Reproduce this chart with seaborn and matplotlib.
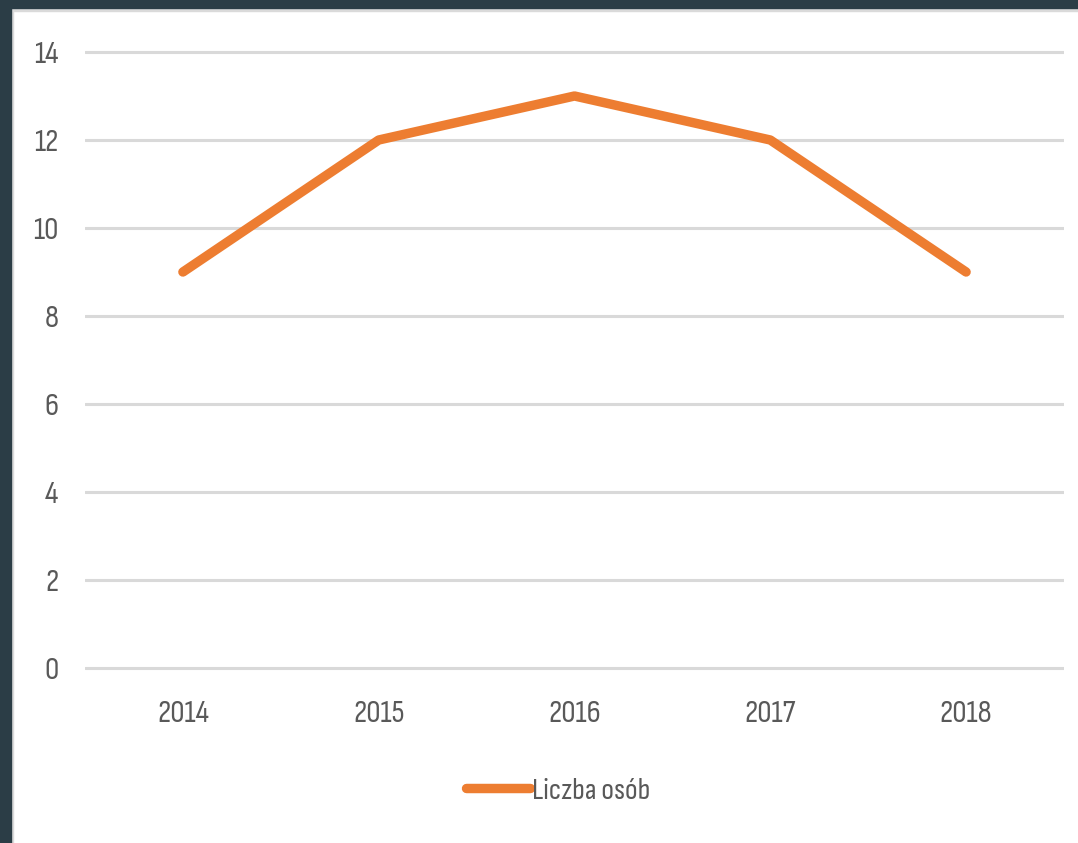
import pandas as pd
import seaborn as sns
import matplotlib.pyplot as plt
from matplotlib.patches import Rectangle

# chart data
years = ["2014", "2015", "2016", "2017", "2018"]
liczba_osob = [9, 12, 13, 12, 9]
series_name = "Liczba osób"

df = pd.DataFrame({"rok": years, "liczba": liczba_osob})

sns.set_style("white")
plt.rcParams["font.family"] = ["Sofia Sans Condensed", "PT Sans Narrow", "DejaVu Sans"]

W, H = 1078, 843
fig = plt.figure(figsize=(W / 100, H / 100), dpi=100)
fig.patch.set_facecolor("white")

# axes placed so 0..14 spans the pixel rows seen in the reference
ax = fig.add_axes([85 / W, 1 - 676.8 / H, (1064 - 85) / W, (676.8 - 43.2) / H])

sns.lineplot(data=df, x="rok", y="liczba", ax=ax, color="#ED7D31",
             linewidth=6.8, label=series_name, sort=False)
ax.lines[0].set_solid_capstyle("round")
ax.lines[0].set_solid_joinstyle("round")

ax.set_xlim(-0.5, len(years) - 0.5)
ax.set_ylim(-0.2, 14.2)
ax.set_yticks(range(0, 15, 2))
ax.set_xlabel("")
ax.set_ylabel("")
ax.grid(axis="y", color="#d9d9d9", linewidth=2.2)
ax.set_axisbelow(True)
for s in ax.spines.values():
    s.set_visible(False)
ax.tick_params(axis="both", length=0, labelsize=23, labelcolor="#595959")
ax.tick_params(axis="y", pad=19)
ax.tick_params(axis="x", pad=17)

ax.get_legend().remove()
h, l = ax.get_legend_handles_labels()
h[0].set_linewidth(6.8)
leg = fig.legend(h, l, loc="center", bbox_to_anchor=(558 / W, 1 - 791 / H),
                 frameon=False, fontsize=22, handlelength=2.1, handletextpad=0.05,
                 labelcolor="#595959")

# dark frame on top and left edges
fig.patches.append(Rectangle((0, 1 - 8 / H), 1, 8 / H, transform=fig.transFigure,
                             color="#2B3D46", zorder=10))
fig.patches.append(Rectangle((0, 1 - 11 / H), 1, 3 / H, transform=fig.transFigure,
                             color="#dadada", zorder=9))
fig.patches.append(Rectangle((0, 0), 11 / W, 1, transform=fig.transFigure,
                             color="#2B3D46", zorder=10))
fig.patches.append(Rectangle((11 / W, 0), 2 / W, 1 - 8 / H, transform=fig.transFigure,
                             color="#dadada", zorder=9))

fig.savefig("out.png", dpi=100)
